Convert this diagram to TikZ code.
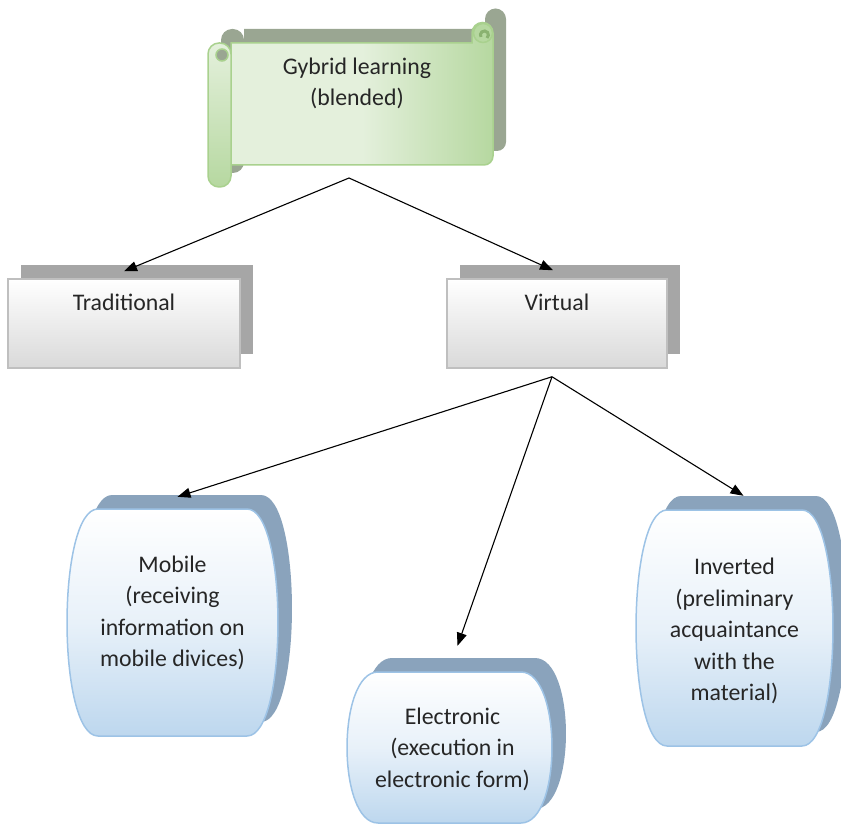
\documentclass[tikz,border=0pt]{standalone}
\usepackage{fontspec}
\setmainfont{Carlito}
\usetikzlibrary{arrows.meta,shadows}
\definecolor{scrollborder}{RGB}{169,209,142}
\definecolor{scrolllight}{RGB}{228,240,220}
\definecolor{scrolldark}{RGB}{182,216,160}
\definecolor{scrollcurl}{RGB}{138,178,112}
\definecolor{scrollshadow}{RGB}{154,166,146}
\definecolor{boxborder}{RGB}{191,191,191}
\definecolor{boxbottom}{RGB}{217,217,217}
\definecolor{boxshadow}{RGB}{166,166,166}
\definecolor{barrelborder}{RGB}{157,195,230}
\definecolor{barrelbottom}{RGB}{189,215,238}
\definecolor{barrelshadow}{RGB}{138,163,188}
\begin{document}
\begin{tikzpicture}[x=1pt,y=-1pt,
  every node/.style={font=\fontsize{23.8}{31.5}\selectfont, text=black!85},
  plainbox/.style={draw=boxborder, line width=1.5pt, top color=white, bottom color=boxbottom,
    minimum height=89pt, inner sep=0pt,
    copy shadow={shadow xshift=13pt, shadow yshift=14pt, fill=boxshadow, draw=none}},
  arr/.style={-{Triangle[length=13pt,width=10pt]}, line width=1.1pt}]
\useasboundingbox (0,0) rectangle (841,826);
% Scroll shadow
\begin{scope}[shift={(13,-14)}]
\fill[scrollshadow] (231,165) -- (484,165) arc[start angle=-90,end angle=0,radius=9pt] -- (493,33) arc[start angle=0,end angle=180,radius=10.5pt] -- (472,43) -- (231,43) -- cycle;
\fill[scrollshadow, rounded corners=11pt] (208,43) rectangle (231,187);
\end{scope}
% Scroll body and rolls
\draw[scrollborder, line width=1.5pt, left color=scrolllight, right color=scrolldark, middle color=scrolllight] (231,165) -- (484,165) arc[start angle=-90,end angle=0,radius=9pt] -- (493,33) arc[start angle=0,end angle=180,radius=10.5pt] -- (472,43) -- (231,43) -- cycle;
\draw[scrollborder, line width=1.5pt, fill=scrolldark] (483,33) circle[radius=9.5pt];
\draw[scrollcurl, line width=3pt] (487,38) arc[start angle=-50,end angle=210,radius=4pt];
\draw[scrollborder, line width=1.5pt, top color=scrolllight, bottom color=scrolldark, rounded corners=11pt] (208,43) rectangle (231,187);
\draw[scrollborder, line width=1.5pt, fill=scrollshadow] (222,55) circle[radius=6pt];
\node[align=center] (gybrid) at (357,83.5) {Gybrid learning\\(blended)};
\coordinate (gyb-hub) at (349,178);
% Second level boxes
\node[plainbox, minimum width=232pt] (trad) at (124,323.5) {};
\node[plainbox, minimum width=220pt] (virt) at (557,323.5) {};
\node (trad-text) at ([yshift=-24pt]trad.north) {Traditional};
\node (virt-text) at ([yshift=-24pt]virt.north) {Virtual};
\coordinate (virt-hub) at ([xshift=-5pt,yshift=-8pt]virt.south);
% Barrels of the third level
\foreach \n/\l/\t/\r/\b in {mob/67/509/278/736, elec/347/672/552/823, inv/636/510/833/746} {
  \fill[barrelshadow, shift={(14,-14)}] ({\l+31},\t) -- ({\r-31},\t) .. controls ({\r+10.3},\t) and ({\r+10.3},\b) .. ({\r-31},\b) -- ({\l+31},\b) .. controls ({\l-10.3},\b) and ({\l-10.3},\t) .. ({\l+31},\t) -- cycle;
  \draw[barrelborder, line width=1.5pt, top color=white, bottom color=barrelbottom, middle color=white!65!barrelbottom] ({\l+31},\t) -- ({\r-31},\t) .. controls ({\r+10.3},\t) and ({\r+10.3},\b) .. ({\r-31},\b) -- ({\l+31},\b) .. controls ({\l-10.3},\b) and ({\l-10.3},\t) .. ({\l+31},\t) -- cycle;
  \node[inner sep=0pt, minimum width={\r-\l}, minimum height={\b-\t}] (\n) at ({(\l+\r)/2},{(\t+\b)/2}) {};
}
\node[align=center] (mob-text) at ([yshift=9.5pt]mob) {Mobile\\(receiving\\information on\\mobile divices)};
\node[align=center] (elec-text) at ([xshift=3pt,yshift=-1.5pt]elec) {Electronic\\(execution in\\electronic form)};
\node[align=center] (inv-text) at ([yshift=-3pt]inv) {Inverted\\(preliminary\\acquaintance\\with the\\material)};
% Arrows
\draw[arr] (gyb-hub) -- ([yshift=7pt]trad.north);
\draw[arr] (gyb-hub) -- ([xshift=-4pt,yshift=8pt]virt.north);
\draw[arr] (virt-hub) -- ([xshift=5pt,yshift=12pt]mob.north);
\draw[arr] (virt-hub) -- ([xshift=8pt,yshift=26pt]elec.north);
\draw[arr] (virt-hub) -- ([xshift=9pt,yshift=14pt]inv.north);
\end{tikzpicture}
\end{document}
